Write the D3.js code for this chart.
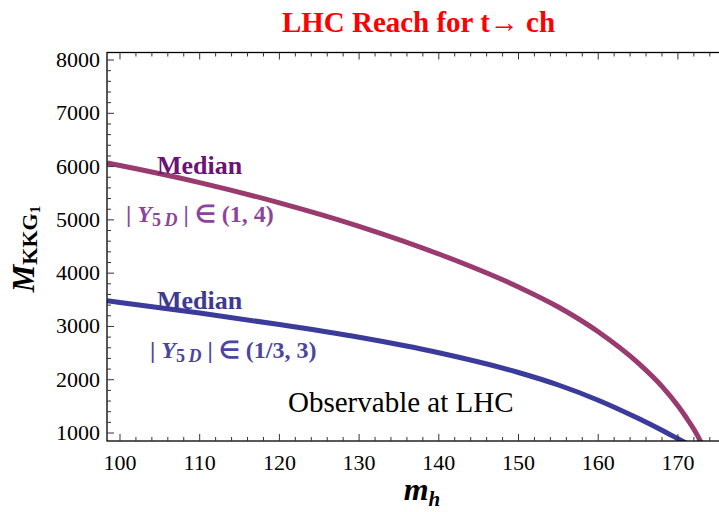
<!DOCTYPE html>
<html><head><meta charset="utf-8">
<script src="https://cdn.jsdelivr.net/npm/d3@7"></script>
<style>body{margin:0;background:#fff}svg{display:block}text{font-family:"Liberation Serif","Times New Roman",serif}</style>
</head><body>
<script>
const mhPurple = [98.4, 100, 110, 120, 130, 140, 150, 155, 160, 165, 168, 170, 171, 172, 172.8, 173.2];
const mkkPurple = [6067, 6020, 5700, 5320, 4880, 4360, 3740, 3365, 2900, 2315, 1874, 1510, 1300, 1070, 850, 700];
const mhBlue = [98.4, 100, 110, 120, 130, 140, 150, 155, 160, 165, 168, 170, 170.64, 171.3];
const mkkBlue = [3481, 3451, 3251, 3036, 2796, 2506, 2136, 1901, 1616, 1276, 1051, 891, 840, 790];
const xTicks = [100, 110, 120, 130, 140, 150, 160, 170];
const yTicks = [1000, 2000, 3000, 4000, 5000, 6000, 7000, 8000];

const W = 719, H = 512;
const FF = "Liberation Serif, Times New Roman, serif";
const svg = d3.select("body").append("svg").attr("width", W).attr("height", H);
const L = 107, R = 720, T = 52.5, B = 441;
const x = d3.scaleLinear().domain([98.37, 175.28]).range([L, R]);
const y = d3.scaleLinear().domain([850, 8141]).range([B, T]);

svg.append("clipPath").attr("id", "c").append("rect").attr("x", L).attr("y", T).attr("width", R - L).attr("height", B - T);

const line = d3.line().x(d => x(d[0])).y(d => y(d[1])).curve(d3.curveMonotoneX);
const g = svg.append("g").attr("clip-path", "url(#c)");
g.append("path").datum(d3.zip(mhPurple, mkkPurple)).attr("d", line)
  .attr("fill", "none").attr("stroke", "#9a3b70").attr("stroke-width", 5);
g.append("path").datum(d3.zip(mhBlue, mkkBlue)).attr("d", line)
  .attr("fill", "none").attr("stroke", "#3b3b9c").attr("stroke-width", 5);

svg.append("rect").attr("x", L).attr("y", T).attr("width", R - L).attr("height", B - T)
  .attr("fill", "none").attr("stroke", "#000").attr("stroke-width", 1.3);

const xMinor = d3.range(100, 176, 2).filter(v => v % 10 !== 0);
const yMinor = d3.range(1000, 8100, 200).filter(v => v % 1000 !== 0);
const tk = svg.append("g").attr("stroke", "#333").attr("stroke-width", 1);
xTicks.forEach(v => {
  tk.append("line").attr("x1", x(v)).attr("x2", x(v)).attr("y1", B).attr("y2", B - 7);
  tk.append("line").attr("x1", x(v)).attr("x2", x(v)).attr("y1", T).attr("y2", T + 7);
});
xMinor.forEach(v => {
  tk.append("line").attr("x1", x(v)).attr("x2", x(v)).attr("y1", B).attr("y2", B - 4);
  tk.append("line").attr("x1", x(v)).attr("x2", x(v)).attr("y1", T).attr("y2", T + 4);
});
yTicks.forEach(v => {
  tk.append("line").attr("x1", L).attr("x2", L + 7).attr("y1", y(v)).attr("y2", y(v));
});
yMinor.forEach(v => {
  tk.append("line").attr("x1", L).attr("x2", L + 4).attr("y1", y(v)).attr("y2", y(v));
});

svg.append("g").selectAll("text").data(xTicks).join("text")
  .attr("font-family", FF)
  .attr("x", d => x(d)).attr("y", 470).attr("text-anchor", "middle")
  .attr("font-size", 22).text(d => d);
svg.append("g").selectAll("text").data(yTicks).join("text")
  .attr("font-family", FF)
  .attr("x", 100).attr("y", d => y(d) + 7).attr("text-anchor", "end")
  .attr("font-size", 22).text(d => d);

svg.append("text").attr("font-family", FF).attr("x", 282).attr("y", 32)
  .attr("font-size", 30).attr("font-weight", "bold").attr("fill", "#ff0000")
  .attr("textLength", 273).attr("lengthAdjust", "spacingAndGlyphs")
  .text("LHC Reach for  t\u2192 ch");

const xl = svg.append("text").attr("font-family", FF).attr("x", 422).attr("y", 500).attr("text-anchor", "middle")
  .attr("font-size", 32).attr("font-weight", "bold").attr("font-style", "italic");
xl.append("tspan").text("m");
xl.append("tspan").attr("font-size", 21).attr("dy", 6).text("h");

const yl = svg.append("text").attr("font-family", FF).attr("transform", "translate(34,249) rotate(-90)")
  .attr("text-anchor", "middle").attr("font-size", 31).attr("font-weight", "bold");
yl.append("tspan").attr("font-style", "italic").text("M");
yl.append("tspan").attr("font-size", 22).attr("dy", 3).text("KKG");
yl.append("tspan").attr("font-size", 15).attr("dy", 3).text("1");

function ylabel(xp, yp, color, rest) {
  const t = svg.append("text").attr("font-family", FF).attr("x", xp).attr("y", yp).attr("font-size", 24)
    .attr("font-weight", "bold").attr("fill", color);
  t.append("tspan").text("| ");
  t.append("tspan").attr("font-style", "italic").text("Y");
  t.append("tspan").attr("font-size", 18).attr("dy", 4).text("5\u2009");
  t.append("tspan").attr("font-size", 18).attr("font-style", "italic").text("D");
  t.append("tspan").attr("dy", -4).text(" |  \u2208 " + rest);
}
svg.append("text").attr("font-family", FF).attr("x", 157).attr("y", 174).attr("font-size", 26).attr("font-weight", "bold")
  .attr("fill", "#6a1378").text("Median");
ylabel(126, 222, "#8c449e", "(1, 4)");
svg.append("text").attr("font-family", FF).attr("x", 157).attr("y", 309).attr("font-size", 26).attr("font-weight", "bold")
  .attr("fill", "#3f3a90").text("Median");
ylabel(150, 358, "#4a45a0", "(1/3, 3)");
svg.append("text").attr("font-family", FF).attr("x", 288).attr("y", 412).attr("font-size", 29).attr("fill", "#000")
  .text("Observable at LHC");
</script>
</body></html>
